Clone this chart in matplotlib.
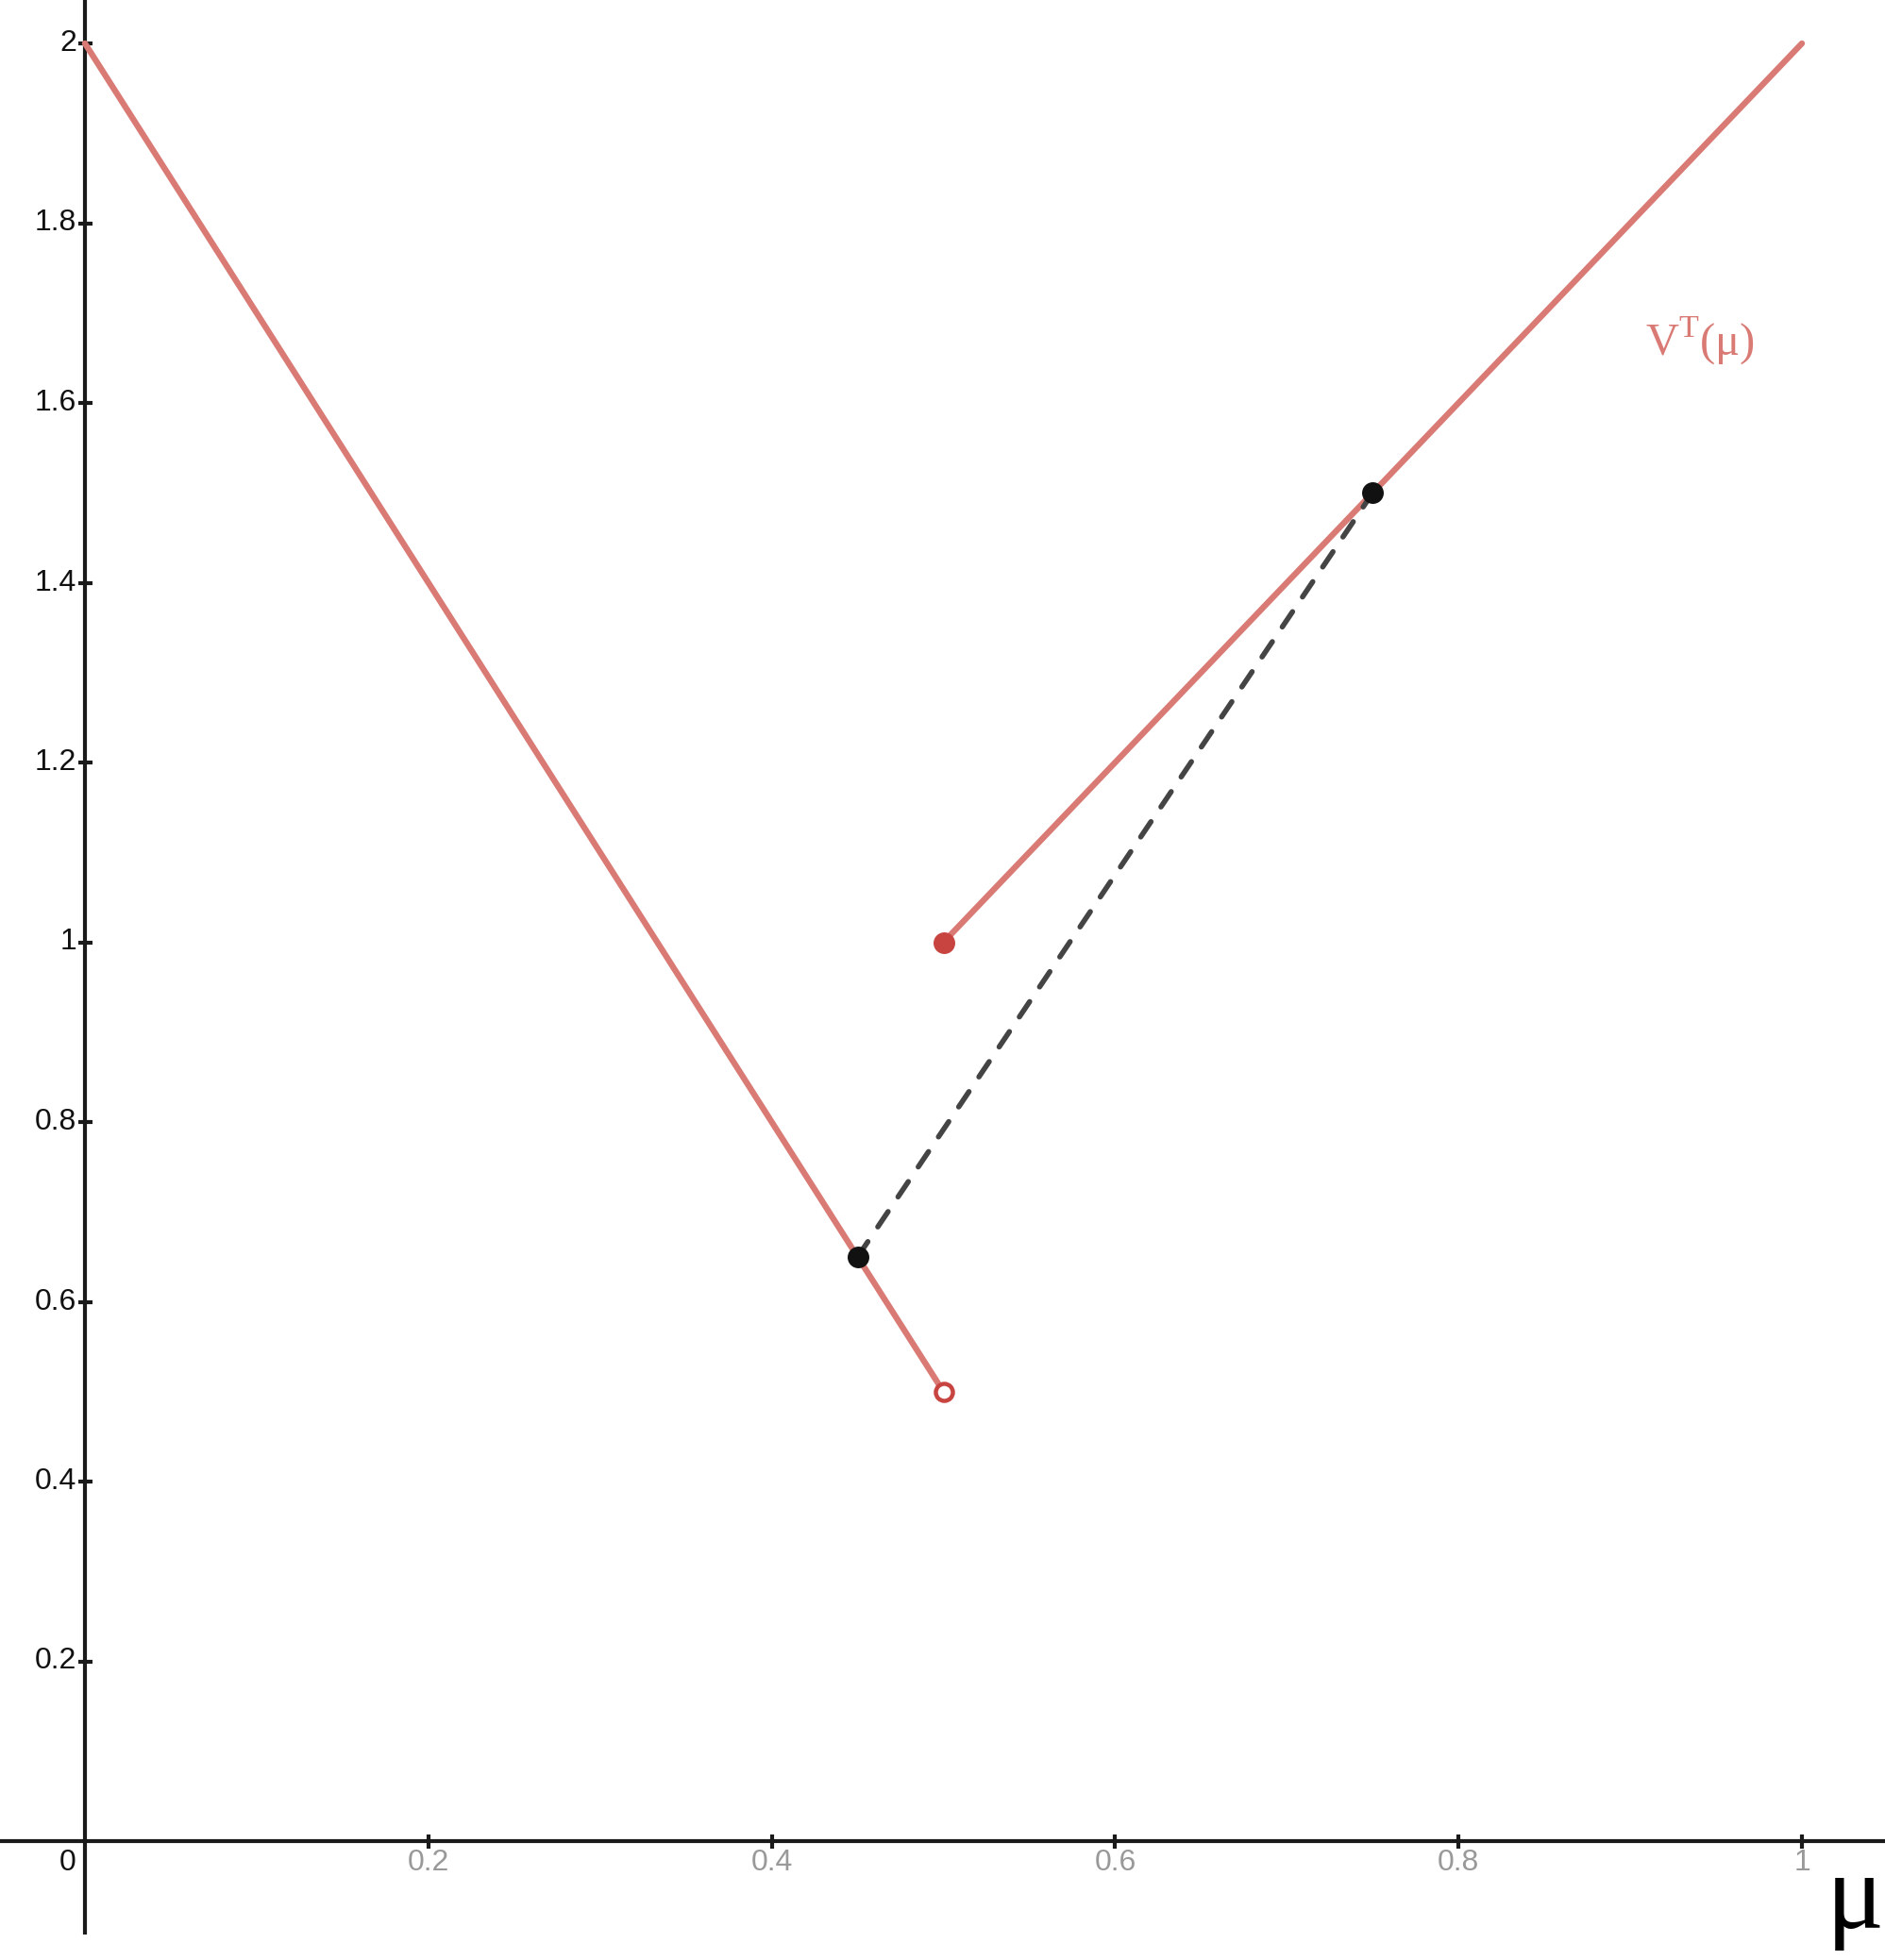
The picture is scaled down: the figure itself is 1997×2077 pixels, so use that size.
import matplotlib
matplotlib.use("Agg")
import matplotlib.pyplot as plt
import numpy as np

# piecewise V^T(mu)
left_x = [0.0, 0.5]
left_y = [2.0, 0.5]
right_x = [0.5, 1.0]
right_y = [1.0, 2.0]

# concavification chord
chord_x = [0.45, 0.75]
chord_y = [0.65, 1.5]

x_ticks = [0.2, 0.4, 0.6, 0.8, 1.0]
x_labels = ["0.2", "0.4", "0.6", "0.8", "1"]
y_ticks = [0.2, 0.4, 0.6, 0.8, 1.0, 1.2, 1.4, 1.6, 1.8, 2.0]
y_labels = ["0.2", "0.4", "0.6", "0.8", "1", "1.2", "1.4", "1.6", "1.8", "2"]

red_line = "#d97a75"
red_dot = "#c74440"
axis_col = "#1a1a1a"

W, H = 1997, 2077
fig = plt.figure(figsize=(W / 100, H / 100), dpi=100)
ax = fig.add_axes([0, 0, 1, 1])

# pixel positions of origin / unit measured on the reference
x0, xunit = 90, 1819
y0, yunit = 1951, 952.5
ax.set_xlim(-x0 / xunit, (W - x0) / xunit)
ax.set_ylim((y0 - H) / yunit, y0 / yunit)
ax.axis("off")

def px(x):
    return (x - x0) / xunit

def py(y):
    return (y0 - y) / yunit

# axes lines
ax.plot([px(0), px(W)], [0, 0], color=axis_col, lw=3, zorder=1, solid_capstyle="butt")
ax.plot([0, 0], [py(2050), py(0)], color=axis_col, lw=3, zorder=1, solid_capstyle="butt")

tick_font = dict(family=["Liberation Sans", "DejaVu Sans"], fontsize=23)
ty = 7.5 / yunit
tx = 7.5 / xunit
for v, lab in zip(x_ticks, x_labels):
    ax.plot([v, v], [-ty, ty], color=axis_col, lw=3, zorder=1, solid_capstyle="butt")
    ax.text(v, -8 / yunit, lab, ha="center", va="top", color="#999999", **tick_font)
for v, lab in zip(y_ticks, y_labels):
    ax.plot([-tx, tx], [v, v], color=axis_col, lw=3, zorder=1, solid_capstyle="butt")
    ax.text(-9 / xunit, v, lab, ha="right", va="center", color="#111111", **tick_font)
ax.text(-9 / xunit, -8 / yunit, "0", ha="right", va="top", color="#111111", **tick_font)

# curves
ax.plot(left_x, left_y, color=red_line, lw=4.6, zorder=2, solid_capstyle="round")
ax.plot(right_x, right_y, color=red_line, lw=4.6, zorder=2, solid_capstyle="round")
ax.plot(chord_x, chord_y, color="#444444", lw=4, zorder=3, dashes=(3.5, 3.4), dash_capstyle="round")

ax.plot([right_x[0]], [right_y[0]], "o", ms=15.5, color=red_dot, mec=red_dot, zorder=4)
ax.plot([left_x[1]], [left_y[1]], "o", ms=13, mfc="white", mec=red_dot, mew=3.2, zorder=4)
ax.plot(chord_x, chord_y, "o", ms=15.5, color="#111111", zorder=5)

ax.text(px(1743), py(377), r"V$^{\mathregular{T}}$(μ)", color=red_line,
        fontsize=35, family=["Liberation Serif", "DejaVu Serif"], ha="left", va="baseline")
ax.text(px(1996), py(2043), "μ", color="black",
        fontsize=82, family=["Liberation Serif", "DejaVu Serif"], ha="right", va="baseline")

fig.savefig("out.png", dpi=100)
